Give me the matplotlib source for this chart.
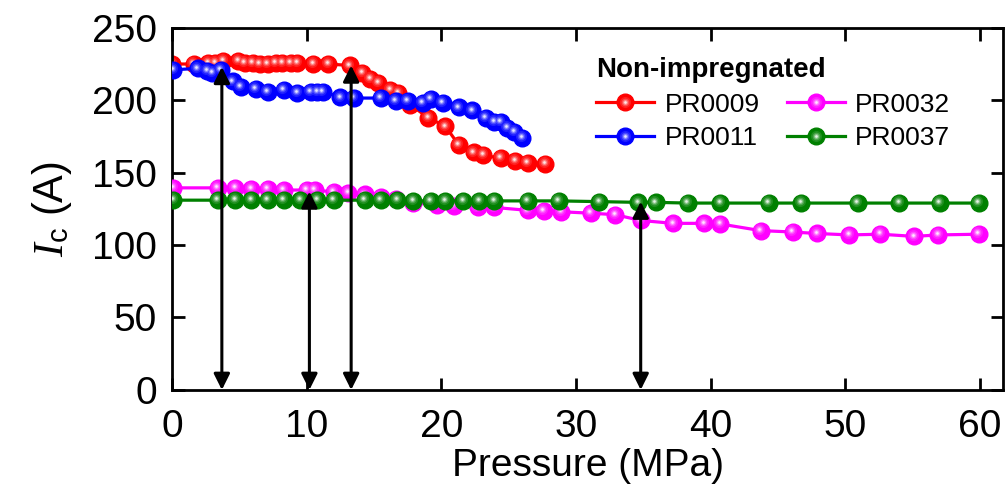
import numpy as np
import matplotlib
matplotlib.use("Agg")
import matplotlib.pyplot as plt
from matplotlib import transforms
from matplotlib.legend_handler import HandlerTuple

plt.rcParams['font.family'] = ['Liberation Sans', 'DejaVu Sans']
plt.rcParams['mathtext.fontset'] = 'custom'
plt.rcParams['mathtext.it'] = 'Liberation Serif:italic'
plt.rcParams['mathtext.rm'] = 'Liberation Sans'

# ------------------------------------------------------------
# Datos
# ------------------------------------------------------------
p_0009 = [0, 1.6, 2.7, 3.2, 3.8, 4.9, 5.4, 6.0, 6.5, 7.1, 7.7, 8.2, 8.8, 9.3, 10.5, 11.6,
          13.2, 14.1, 14.7, 15.3, 16.2, 16.8, 17.7, 19.0, 20.3, 21.3, 22.4, 23.1, 24.4,
          25.5, 26.4, 27.7]
ic_0009 = [225, 225, 226, 226, 227, 227, 226, 226, 225, 225, 226, 226, 226, 226, 225, 225,
           224, 219, 215, 212, 207, 205, 197, 188, 182, 169, 164, 162, 160, 158, 157, 156]

p_0011 = [0.1, 1.9, 2.6, 3.0, 3.6, 4.5, 5.1, 6.2, 7.1, 8.3, 9.3, 10.3, 10.8, 11.2, 12.5,
          13.5, 15.5, 16.6, 17.5, 18.6, 19.2, 20.1, 21.3, 22.3, 23.3, 23.9, 24.4, 24.9,
          25.4, 26.0]
ic_0011 = [221, 222, 220, 219, 221, 213, 209, 208, 206, 207, 205, 206, 206, 206, 202,
           201.5, 201.5, 199.5, 199.5, 198, 201, 198, 195, 193, 188, 185, 185, 181, 178, 174]

p_0032 = [0.1, 3.4, 4.7, 5.9, 7.1, 8.3, 10.0, 10.6, 12.0, 13.1, 14.3, 15.5, 16.6, 17.9,
          19.7, 20.9, 22.7, 23.9, 26.4, 27.6, 28.9, 31.1, 32.9, 34.8, 37.2, 39.5, 40.7,
          43.7, 46.1, 47.9, 50.3, 52.6, 55.1, 56.9, 59.9]
ic_0032 = [139.5, 139.5, 139.5, 139, 139, 138, 138, 138, 136.7, 136, 135, 133, 132, 129,
           128, 127, 126, 126, 124, 123.6, 123, 122, 121, 117, 115, 115, 114.6, 110, 109,
           108, 107, 107.5, 106, 107, 107.5]

p_0037 = [0.1, 3.4, 4.7, 5.9, 7.1, 8.3, 9.5, 10.8, 12.0, 14.3, 15.5, 16.7, 17.9, 19.2,
          20.3, 21.6, 22.8, 23.9, 26.4, 28.7, 31.7, 34.6, 35.9, 38.3, 40.7, 44.3, 46.7,
          50.9, 54.0, 57.0, 59.9]
ic_0037 = [131, 131, 131, 131, 131, 131, 131, 131, 131, 131, 131, 131, 130.5, 130.5,
           130.5, 130.5, 130.5, 130.5, 130.5, 130.5, 130, 129.5, 129.5, 129, 129, 129, 129,
           129, 129, 129, 129]

# flechas verticales: presión y valor superior
flecha_p = [3.7, 10.2, 13.3, 34.8]
flecha_top = [223, 137, 224, 130]

# ------------------------------------------------------------
# Gráfico
# ------------------------------------------------------------
fig = plt.figure(figsize=(10.06, 4.88), dpi=100)
ax = fig.add_axes([0.171, 0.201, 0.826, 0.742])


def mezcla(c, f):
    c = np.array(matplotlib.colors.to_rgb(c))
    return tuple(c + (1 - c) * f)


# capas del brillo: (tamaño, fracción de blanco)
capas = [(8, 0.12), (5.5, 0.3), (3.6, 0.55), (1.9, 0.9)]


def serie(x, y, color, nombre, z):
    # bola con brillo: marcador de color + capas cada vez más claras
    linea, = ax.plot(x, y, '-o', color=color, lw=2.3, ms=12, mec=color, mfc=color,
                     zorder=z, label=nombre)
    desp = transforms.offset_copy(ax.transData, fig=fig, x=-1.0, y=1.3, units='points')
    hs = [linea]
    for i, (ms, f) in enumerate(capas):
        ax.plot(x, y, 'o', ms=ms, mfc=mezcla(color, f), mec='none', transform=desp,
                zorder=z + 0.1 * (i + 1))
        h, = ax.plot([], [], 'o', ms=ms, mfc=mezcla(color, f), mec='none')
        hs.append(h)
    return tuple(hs)


h9 = serie(p_0009, ic_0009, 'red', 'PR0009', 2)
h32 = serie(p_0032, ic_0032, 'magenta', 'PR0032', 3)
h11 = serie(p_0011, ic_0011, 'blue', 'PR0011', 4)
h37 = serie(p_0037, ic_0037, 'green', 'PR0037', 5)

for xp, yt in zip(flecha_p, flecha_top):
    ax.annotate('', xy=(xp, yt), xytext=(xp, 0),
                arrowprops=dict(arrowstyle='<|-|>', color='black', lw=2.2,
                                mutation_scale=24, shrinkA=0, shrinkB=0),
                zorder=10)

ax.set_xlim(0, 61.7)
ax.set_ylim(0, 250)
ax.set_xticks(np.arange(0, 61, 10))
ax.set_yticks(np.arange(0, 251, 50))
ax.tick_params(direction='in', length=9, width=2, labelsize=28,
               top=True, right=True)
ax.tick_params(axis='y', pad=11)
ax.tick_params(axis='x', pad=14)
for s in ax.spines.values():
    s.set_linewidth(2)

ax.set_xlabel('Pressure (MPa)', fontsize=28, labelpad=2)
ax.set_ylabel(r'$I_{\rm c}$ (A)', fontsize=30, labelpad=13)

leg = ax.legend([h9, h11, h32, h37], ['PR0009', 'PR0011', 'PR0032', 'PR0037'],
                handler_map={tuple: HandlerTuple(ndivide=1)},
                ncol=2, frameon=False, loc='upper left', bbox_to_anchor=(0.498, 0.948),
                fontsize=19, title='Non-impregnated', alignment='left',
                title_fontproperties={'weight': 'bold', 'size': 20},
                handlelength=2.2, handletextpad=0.4, columnspacing=1.0,
                labelspacing=0.36, borderaxespad=0)

fig.savefig('out.png', dpi=100)
